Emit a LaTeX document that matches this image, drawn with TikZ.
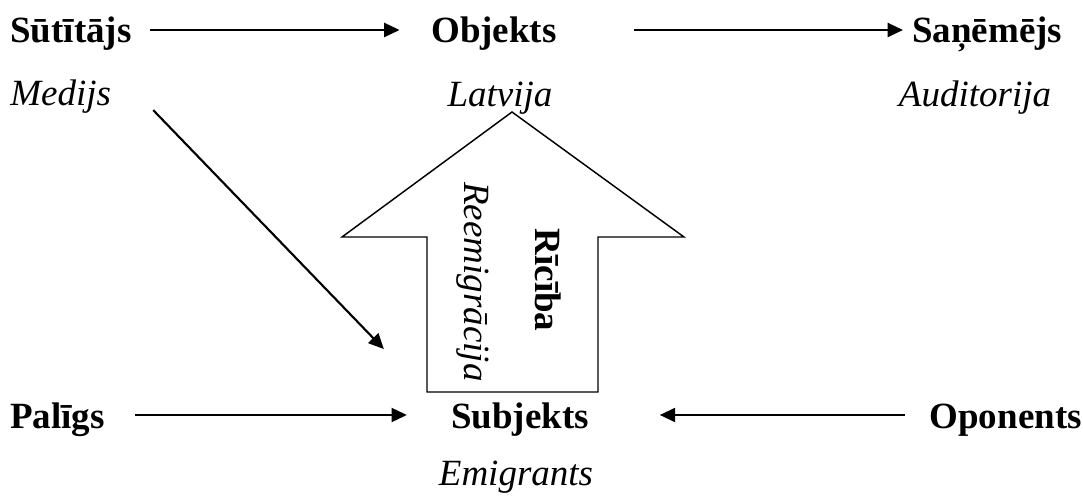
\documentclass[tikz,border=0pt]{standalone}
\usepackage{fontspec}
\setmainfont{Liberation Serif}
\usetikzlibrary{arrows.meta}
\tikzset{
  lbl/.style={inner sep=0pt, font=\fontsize{27.75pt}{33pt}\selectfont},
  role/.style={lbl, font=\fontsize{27.75pt}{33pt}\selectfont\bfseries},
  inst/.style={lbl, font=\fontsize{27.75pt}{33pt}\selectfont\itshape},
  conn/.style={line width=1.6pt, -{Triangle[length=11.5pt,width=10.5pt]}},
  bigarrow/.style={line width=1.1pt, draw=black, fill=white}
}
\begin{document}
\begin{tikzpicture}[x=0.75pt, y=-0.75pt]
\useasboundingbox (0,0) rectangle (1083,499);
% big arrow (action)
\draw[bigarrow] (427,392) -- (427,237) -- (342,237) -- (512,112) -- (684,237) -- (598,237) -- (598,392) -- cycle;
\node[inst, rotate=-90] (ree) at (473,282) {Reemigrācija};
\node[role, rotate=-90] (ric) at (548,280) {Rīcība};
% top row
\node[role, anchor=base west] (sut) at (10,43) {Sūtītājs};
\node[role, anchor=base] (obj) at (494,43) {Objekts};
\node[role, anchor=base west] (san) at (912,43) {Saņēmējs};
\node[inst, anchor=base west] (med) at (10,106) {Medijs};
\node[inst, anchor=base] (lat) at (500,107) {Latvija};
\node[inst, anchor=base] (aud) at (975,107) {Auditorija};
% bottom row
\node[role, anchor=base west] (pal) at (10,428) {Palīgs};
\node[role, anchor=base] (sub) at (520,428) {Subjekts};
\node[role, anchor=base east] (opo) at (1082,428) {Oponents};
\node[inst, anchor=base] (emi) at (516,485) {Emigrants};
% connectors
\draw[conn, shorten <=13.5pt, shorten >=23.6pt] ([yshift=9.75pt]sut.base east) -- ([yshift=9.75pt]sut.base east -| obj.west);
\draw[conn, shorten <=57.4pt, shorten >=6.75pt] ([yshift=9.75pt]obj.base east) -- ([yshift=9.75pt]obj.base east -| san.west);
\draw[conn, shorten <=22.5pt, shorten >=33pt] ([yshift=9.75pt]pal.base east) -- ([yshift=9.75pt]pal.base east -| sub.west);
\draw[conn, shorten <=18pt, shorten >=53pt] ([yshift=9.75pt]opo.base west) -- ([yshift=9.75pt]opo.base west -| sub.east);
\draw[conn] ([shift={(42,-4)}]med.south east) -- ([shift={(-67,-53)}]sub.north west);
\end{tikzpicture}
\end{document}
